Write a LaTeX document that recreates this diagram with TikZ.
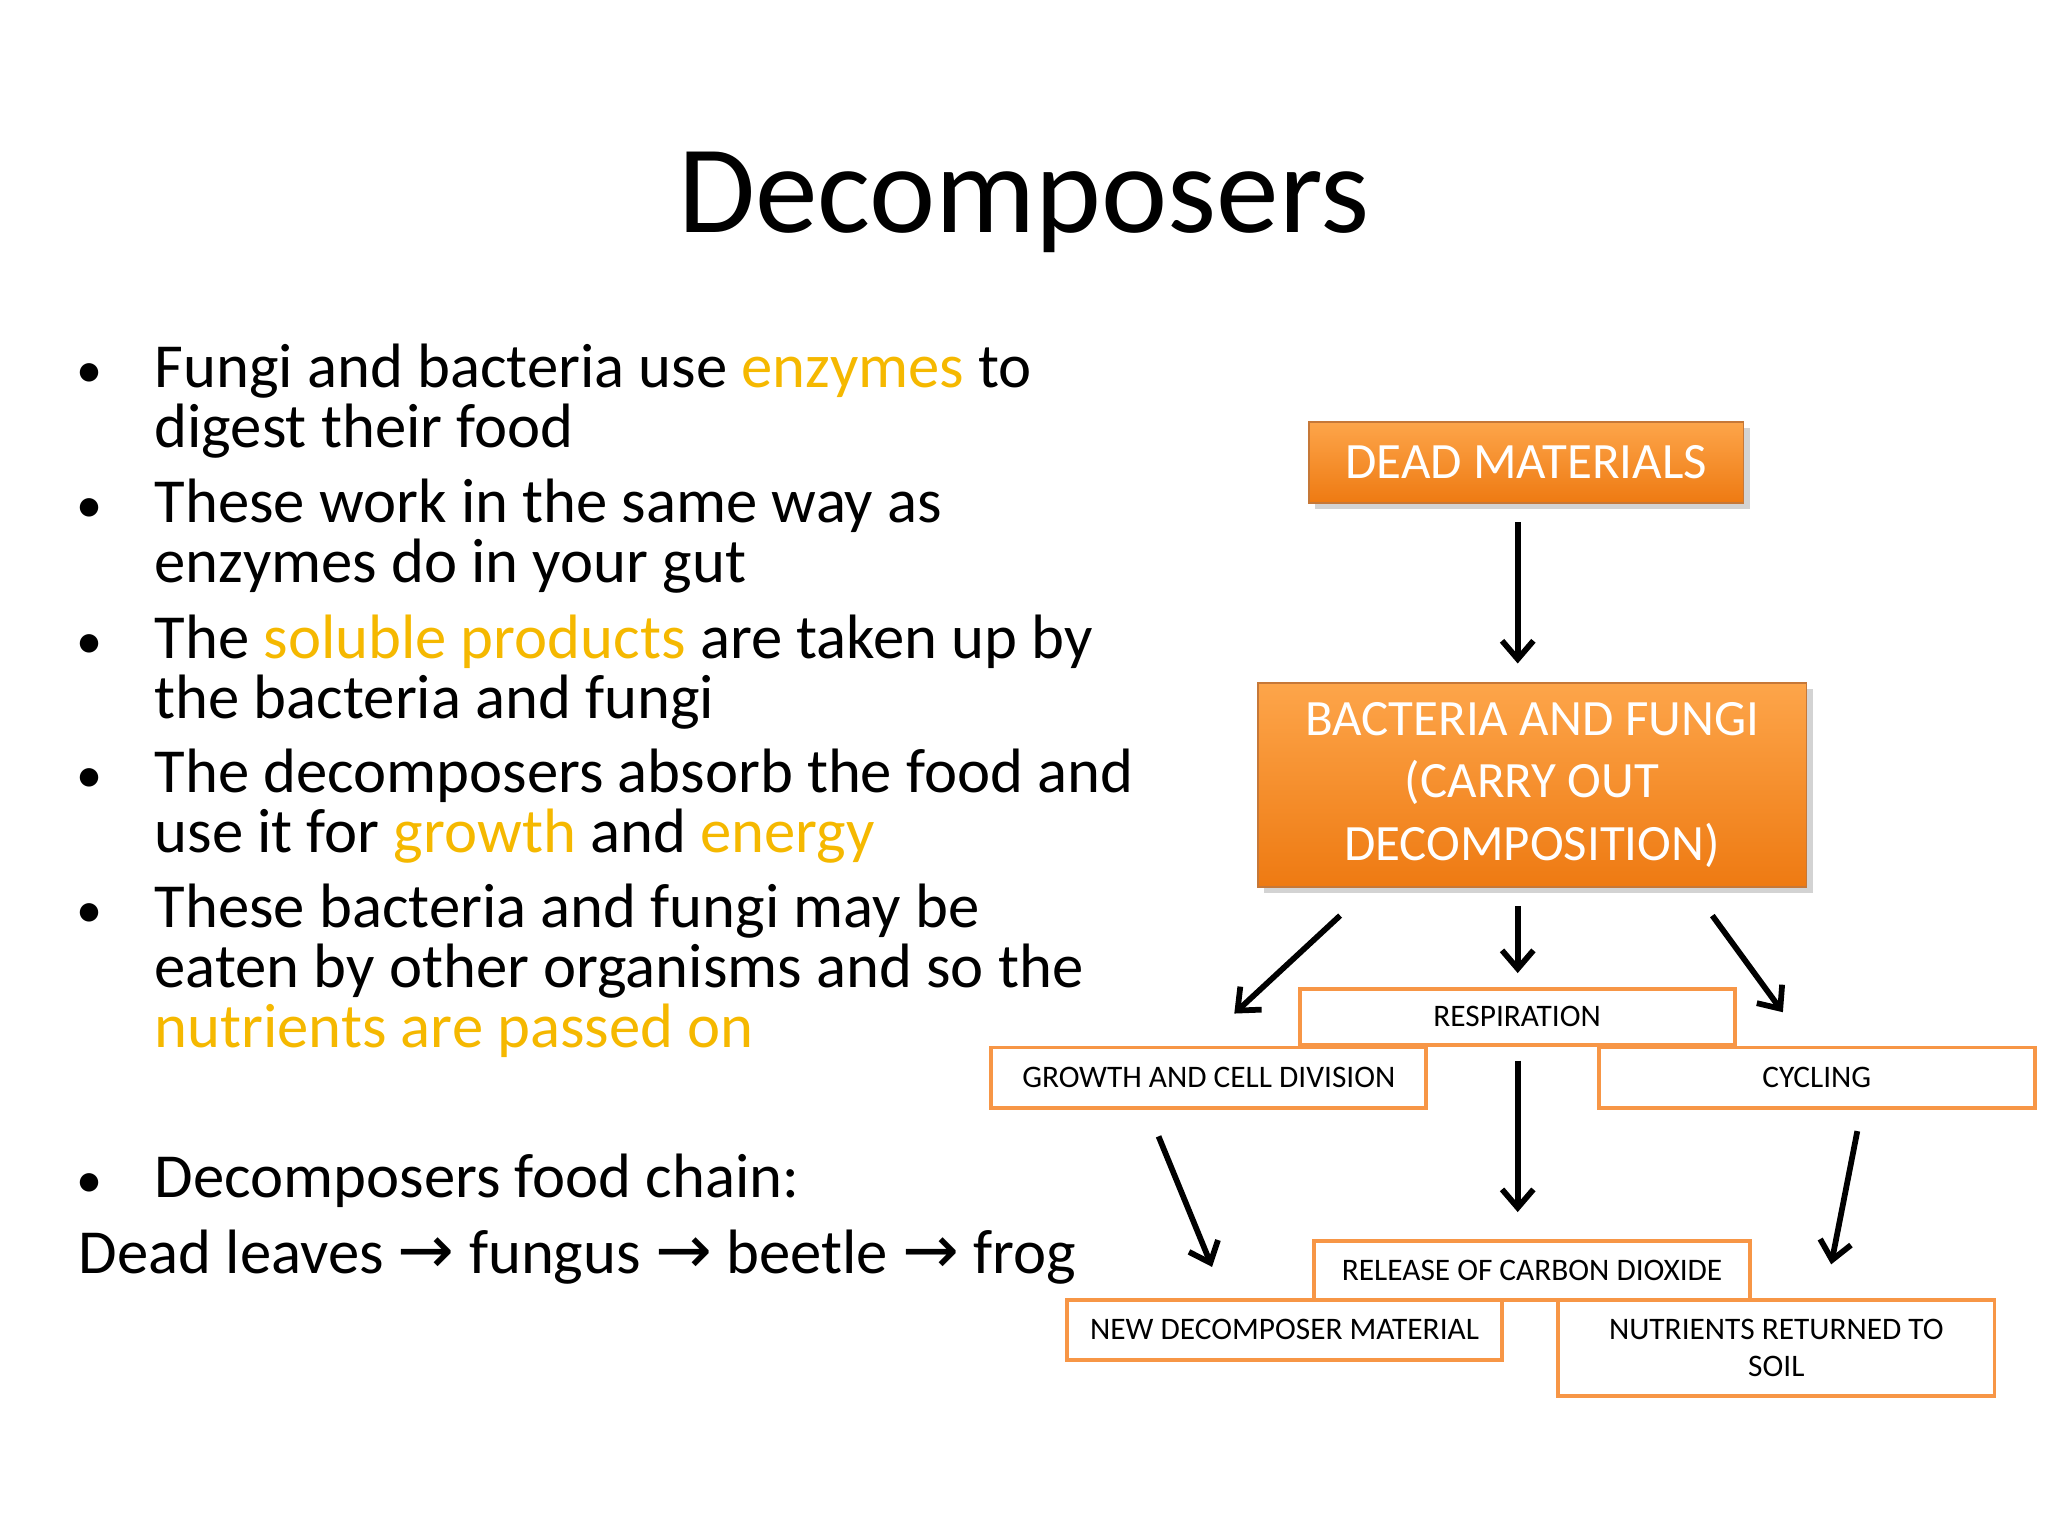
\documentclass[tikz,border=0pt]{standalone}
\usepackage{fontspec}
\setmainfont{Carlito}
\newfontfamily\symf{DejaVu Sans}
\usetikzlibrary{arrows.meta,shadows}
\definecolor{hl}{HTML}{F5B800}
\definecolor{obox}{HTML}{F79646}
\definecolor{otop}{HTML}{FDA54A}
\definecolor{obot}{HTML}{EE7A12}
\newcommand{\chainarr}{{\symf\fontsize{26}{26}\selectfont →}}
\begin{document}
\begin{tikzpicture}[x=0.5pt,y=-0.5pt,
  solid/.style={draw=obox!80!black,line width=0.6pt,top color=otop,bottom color=obot,text=white,font=\fontsize{19.5}{24}\selectfont,align=center,inner sep=0pt,drop shadow={opacity=0.35}},
  ob/.style={draw=obox,line width=1.5pt,fill=white,font=\fontsize{12}{14.5}\selectfont,align=center,inner sep=0pt},
  ar/.style={line width=2.2pt,-{Straight Barb[length=7pt,width=12pt,line width=2.2pt]}},
  bt/.style={anchor=base west,inner sep=0pt,font=\fontsize{24}{24}\selectfont}]
\useasboundingbox (0,0) rectangle (1568,1176);
\node[anchor=base,font=\fontsize{48}{48}\selectfont] (title) at (784,178) {Decomposers};
\foreach \y in {297,400,504,607,710,917} \node[bt,font=\fontsize{20}{20}\selectfont] at (58,\y) {•};
\node[bt] (l1) at (118,297) {Fungi and bacteria use \textcolor{hl}{enzymes} to};
\node[bt] (l2) at (118,343) {digest their food};
\node[bt] (l3) at (118,400) {These work in the same way as};
\node[bt] (l4) at (118,446) {enzymes do in your gut};
\node[bt] (l5) at (118,504) {The \textcolor{hl}{soluble products} are taken up by};
\node[bt] (l6) at (118,550) {the bacteria and fungi};
\node[bt] (l7) at (118,607) {The decomposers absorb the food and};
\node[bt] (l8) at (118,653) {use it for \textcolor{hl}{growth} and \textcolor{hl}{energy}};
\node[bt] (l9) at (118,710) {These bacteria and fungi may be};
\node[bt] (l10) at (118,756) {eaten by other organisms and so the};
\node[bt] (l11) at (118,802) {\textcolor{hl}{nutrients are passed on}};
\node[bt] (l12) at (118,917) {Decomposers food chain:};
\node[bt] (l13) at (60,975) {Dead leaves \chainarr\ fungus \chainarr\ beetle \chainarr\ frog};

\node[solid,minimum width=166.5pt,minimum height=31pt] (dead) at (1168.5,354) {DEAD MATERIALS};
\node[solid,minimum width=210pt,minimum height=78pt] (bac) at (1173,601) {BACTERIA AND FUNGI\\(CARRY OUT\\DECOMPOSITION)};
\node[ob,minimum width=166.5pt,minimum height=21.5pt] (resp) at (1161.5,778.5) {RESPIRATION};
\node[ob,minimum width=166.5pt,minimum height=23pt] (grow) at (925.5,825) {GROWTH AND CELL DIVISION};
\node[ob,minimum width=167pt,minimum height=23pt] (cyc) at (1391,825) {CYCLING};
\node[ob,minimum width=167pt,minimum height=22.5pt] (rel) at (1173,972.5) {RELEASE OF CARBON DIOXIDE};
\node[ob,minimum width=166.5pt,minimum height=23pt] (newd) at (983.5,1018) {NEW DECOMPOSER MATERIAL};
\node[ob,minimum width=167pt,minimum height=37pt] (nut) at (1360,1032) {NUTRIENTS RETURNED TO\\SOIL};

\coordinate (a1s) at (1162,400); \coordinate (a1e) at (1162,508);
\coordinate (b1s) at (1026,701); \coordinate (b1e) at (945,776);
\coordinate (b2s) at (1162,694); \coordinate (b2e) at (1162,745);
\coordinate (b3s) at (1311,701); \coordinate (b3e) at (1365,775);
\coordinate (c1s) at (887,870); \coordinate (c1e) at (928,970);
\coordinate (c2s) at (1162,812); \coordinate (c2e) at (1162,928);
\coordinate (c3s) at (1422,866); \coordinate (c3e) at (1402,968);
\foreach \a in {a1,b1,b2,b3,c1,c2,c3} \draw[ar] (\a s) -- (\a e);
\end{tikzpicture}
\end{document}
